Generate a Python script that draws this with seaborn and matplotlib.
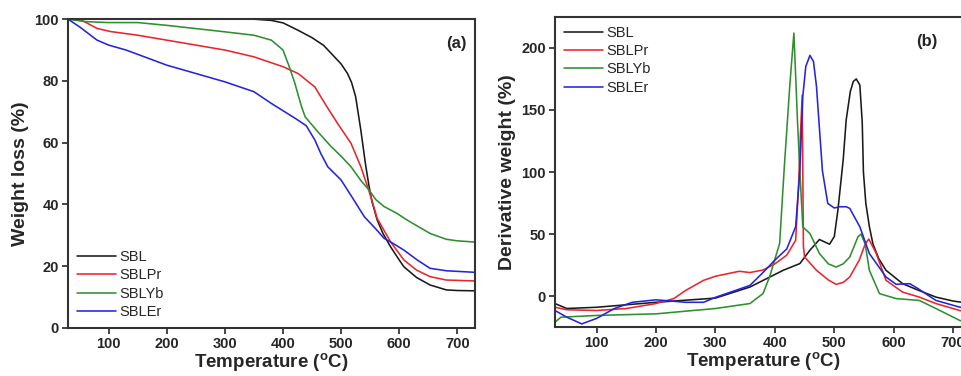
import numpy as np
import pandas as pd
import matplotlib
matplotlib.use("Agg")
import matplotlib.pyplot as plt
import seaborn as sns

sns.set_style("ticks")
plt.rcParams['font.family'] = ['Liberation Sans', 'DejaVu Sans']

names = ['SBL', 'SBLPr', 'SBLYb', 'SBLEr']
colors = {'SBL': '#1a1a1a', 'SBLPr': '#e8262b', 'SBLYb': '#2f8f2f', 'SBLEr': '#2424e0'}

# (a) TGA curves: temperature (C) and weight (%)
tga_sbl_t = [30, 100, 200, 300, 350, 380, 400, 426, 450, 470, 483, 500, 511, 518, 525, 534, 542, 548, 553, 562, 572, 585, 600, 608, 630, 653, 681, 700, 730]
tga_sbl_w = [100, 100, 100, 100, 100, 99.6, 98.8, 96.4, 94, 91.5, 88.9, 85.5, 82.4, 79.5, 74.9, 64, 53, 46, 41, 35, 30.6, 26.3, 22, 19.8, 16.3, 13.9, 12.3, 12.1, 12]

tga_pr_t = [30, 50, 80, 103, 150, 200, 300, 350, 400, 426, 455, 472, 494, 517, 534, 545, 552, 562, 585, 608, 630, 653, 681, 730]
tga_pr_w = [100, 100, 97, 96, 94.8, 93.2, 90, 87.8, 84.6, 82.4, 78, 72.7, 66.2, 59.8, 52.2, 46, 42, 35.5, 27.9, 22, 18.7, 16.6, 15.5, 15.2]

tga_yb_t = [30, 60, 100, 150, 200, 300, 350, 380, 400, 410, 420, 426, 432, 438, 460, 483, 500, 517, 535, 548, 560, 574, 596, 613, 653, 681, 700, 730]
tga_yb_w = [100, 99.2, 98.9, 98.9, 98, 95.9, 94.8, 93.2, 90, 85, 79.5, 75.5, 71.6, 68.4, 63.5, 58.7, 55.6, 52.2, 47.5, 44.7, 41.5, 39.3, 37.1, 35, 30.6, 28.7, 28.2, 27.8]

tga_er_t = [30, 50, 80, 100, 130, 200, 300, 350, 380, 420, 440, 455, 465, 477, 500, 520, 540, 560, 574, 590, 608, 631, 653, 681, 730]
tga_er_w = [100, 97.5, 93.2, 91.6, 90, 85.1, 79.7, 76.5, 72.7, 68, 65.5, 60.8, 56.5, 52.2, 47.9, 42, 36, 32, 29, 27.3, 25.2, 22, 19.3, 18.5, 18]

# (b) DTG curves: temperature (C) and derivative weight (%)
dtg_sbl_t = [30, 50, 100, 200, 300, 358, 414, 442, 459, 475, 492, 500, 506, 515, 520, 527, 532, 537, 543, 547, 549, 553, 559, 565, 575, 587, 615, 640, 671, 700, 730]
dtg_sbl_d = [-6, -10, -9, -5, -1.6, 7.3, 20.8, 26.2, 37, 45.6, 41.8, 48, 69, 110, 142, 165, 173, 175, 170, 140, 100, 75, 56, 42, 30, 20.8, 10, 5, -0.8, -4, -6]

dtg_pr_t = [30, 50, 100, 150, 200, 230, 250, 280, 300, 340, 358, 380, 400, 420, 435, 440, 443, 446, 447, 448, 450, 470, 490, 503, 515, 526, 542, 552, 558, 570, 587, 615, 643, 671, 711, 730]
dtg_pr_d = [-9, -11, -11.6, -10, -6, -2, 4.6, 12.7, 16, 20, 19, 21, 26, 33, 45, 90, 130, 162, 100, 40, 31.5, 20.8, 13, 9.5, 11, 15.4, 29, 42, 46, 35, 12.7, 3.2, -0.8, -6, -11.6, -13]

dtg_yb_t = [30, 40, 100, 200, 300, 358, 380, 391, 408, 416, 425, 432, 438, 442, 447, 459, 475, 490, 503, 515, 526, 540, 545, 552, 559, 576, 604, 643, 671, 711, 730]
dtg_yb_d = [-21, -17, -15.6, -14.3, -10, -6, 2, 15.4, 42.4, 105, 169, 212, 142, 101, 55.8, 50.4, 34.3, 26, 23.4, 26, 31.5, 48, 50, 42, 20.8, 2, -2, -3.5, -10, -19.6, -22]

dtg_er_t = [30, 50, 75, 100, 130, 160, 200, 250, 280, 300, 358, 380, 400, 420, 435, 442, 447, 452, 459, 465, 470, 480, 489, 500, 509, 520, 526, 543, 559, 587, 604, 627, 641, 671, 711, 730]
dtg_er_d = [-11.6, -17, -22.4, -18, -10, -5, -3, -5, -5, -1, 8.6, 19, 29, 38, 56, 101, 161, 185, 194, 189, 169, 101, 74.7, 71, 72, 72, 70.7, 55.8, 34.3, 15.4, 9.5, 10, 6, -3.5, -8.9, -10]


def long_df(pairs, ycol):
    frames = []
    for name, (t, v) in zip(names, pairs):
        frames.append(pd.DataFrame({'T': t, ycol: v, 'sample': name}))
    return pd.concat(frames, ignore_index=True)


tga = long_df([(tga_sbl_t, tga_sbl_w), (tga_pr_t, tga_pr_w),
               (tga_yb_t, tga_yb_w), (tga_er_t, tga_er_w)], 'W')
dtg = long_df([(dtg_sbl_t, dtg_sbl_d), (dtg_pr_t, dtg_pr_d),
               (dtg_yb_t, dtg_yb_d), (dtg_er_t, dtg_er_d)], 'D')

fig = plt.figure(figsize=(9.61, 3.76), dpi=100)
ax1 = fig.add_axes([0.0708, 0.128, 0.4232, 0.821])
ax2 = fig.add_axes([0.5775, 0.130, 0.4329, 0.825])

sns.lineplot(data=tga, x='T', y='W', hue='sample', palette=colors, sort=False,
             estimator=None, linewidth=1.15, ax=ax1)
sns.lineplot(data=dtg, x='T', y='D', hue='sample', palette=colors, sort=False,
             estimator=None, linewidth=1.15, ax=ax2)

ax1.set_xlim(30, 730)
ax1.set_ylim(0, 100)
ax1.set_xticks([100, 200, 300, 400, 500, 600, 700])
ax1.set_yticks([0, 20, 40, 60, 80, 100])
ax1.set_ylabel('Weight loss (%)', fontsize=14, fontweight='bold', labelpad=4)

ax2.set_xlim(30, 730)
ax2.set_ylim(-25, 225)
ax2.set_xticks([100, 200, 300, 400, 500, 600, 700])
ax2.set_yticks([0, 50, 100, 150, 200])
ax2.set_ylabel('Derivative weight (%)', fontsize=14, fontweight='bold', labelpad=4)

for ax in (ax1, ax2):
    ax.set_xlabel('Temperature ($^\\mathregular{o}$C)', fontsize=13.5, fontweight='bold', labelpad=0)
    ax.tick_params(labelsize=10.5, width=1.2, length=4, direction='out', pad=2.5)
    for lab in ax.get_xticklabels() + ax.get_yticklabels():
        lab.set_fontweight('bold')
    for sp in ax.spines.values():
        sp.set_visible(True)
        sp.set_linewidth(1.5)
        sp.set_color('#333333')

ax1.legend(loc='lower left', frameon=False, fontsize=10.5, handlelength=2.7,
           labelspacing=0.3, handletextpad=0.2, borderaxespad=0.2)
ax2.legend(loc='upper left', frameon=False, fontsize=10.5, handlelength=2.7,
           labelspacing=0.3, handletextpad=0.2, borderaxespad=0.2)

ax1.text(0.955, 0.92, '(a)', transform=ax1.transAxes, fontsize=12,
         fontweight='bold', ha='center', va='center')
ax2.text(0.893, 0.92, '(b)', transform=ax2.transAxes, fontsize=12,
         fontweight='bold', ha='center', va='center')

fig.savefig('out.png', dpi=100)
